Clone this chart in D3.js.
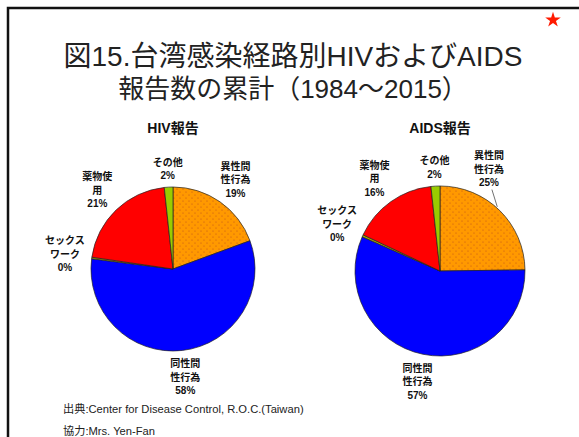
<!DOCTYPE html>
<html>
<head>
  <meta charset="utf-8">
  <title>図15</title>
  <style>
    body { margin: 0; background: #fff; }
    svg { display: block; }
  </style>
</head>
<body>

<svg width="579" height="437" viewBox="0 0 579 437"></svg>

<script src="https://cdn.jsdelivr.net/npm/d3@7"></script>
<script>
// --- data (percent of cumulative reports, 1984-2015) ---
const routes = ['異性間性行為', '同性間性行為', 'セックスワーク', '薬物使用', 'その他'];
const routeLines = [
  ['異性間', '性行為'],
  ['同性間', '性行為'],
  ['セックス', 'ワーク'],
  ['薬物使', '用'],
  ['その他']
];
const hivValues = [19.4, 57.6, 0.3, 21.0, 1.7];
const aidsValues = [24.8, 56.8, 0.4, 16.3, 1.7];
const chartTitles = ['HIV報告', 'AIDS報告'];
const titleLines = ['図15.台湾感染経路別HIVおよびAIDS', '報告数の累計（1984～2015）'];
const notes = ['出典:Center for Disease Control, R.O.C.(Taiwan)', '協力:Mrs. Yen-Fan'];

const svg = d3.select('svg');
const font = '"Liberation Sans", "Noto Sans CJK JP", sans-serif';
const colors = ['url(#dots)', '#0000ff', '#aaaa00', '#ff0000', '#99cc00'];

// dotted orange fill
const defs = svg.append('defs');
const pat = defs.append('pattern')
  .attr('id', 'dots')
  .attr('patternUnits', 'userSpaceOnUse')
  .attr('width', 6).attr('height', 6);
pat.append('rect').attr('width', 6).attr('height', 6).attr('fill', '#ff9900');
pat.selectAll('circle').data([[1, 1], [4, 4]]).join('circle')
  .attr('cx', d => d[0]).attr('cy', d => d[1]).attr('r', 0.6)
  .attr('fill', '#c0501a');

svg.append('rect').attr('width', 579).attr('height', 437).attr('fill', '#fff');

// frame (left + top only)
svg.append('path')
  .attr('d', 'M8,437V8H579')
  .attr('fill', 'none')
  .attr('stroke', '#111')
  .attr('stroke-width', 2.5);

// red star
svg.append('path')
  .attr('transform', 'translate(553,20)')
  .attr('d', d3.symbol(d3.symbolStar, 75)())
  .attr('fill', '#ff1a00');

// title
svg.selectAll('.title').data(titleLines).join('text')
  .attr('class', 'title')
  .attr('x', 293)
  .attr('y', (d, i) => 66 + i * 32)
  .attr('text-anchor', 'middle')
  .attr('font-family', font)
  .attr('font-size', (d, i) => i ? '26px' : '28px')
  .attr('fill', '#222')
  .text(d => d);

const pie = d3.pie().sort(null).value(d => d);

const charts = [
  { title: chartTitles[0], values: hivValues, cx: 173, cy: 269, r: 82, nudge: {} },
  { title: chartTitles[1], values: aidsValues, cx: 440, cy: 271, r: 85, nudge: { 0: -19 } }
];

charts.forEach(c => {
  const g = svg.append('g').attr('transform', `translate(${c.cx},${c.cy})`);
  const arc = d3.arc().innerRadius(0).outerRadius(c.r);
  const slices = pie(c.values);

  g.selectAll('path.slice').data(slices).join('path')
    .attr('class', 'slice')
    .attr('d', arc)
    .attr('fill', (d, i) => colors[i])
    .attr('stroke', '#222')
    .attr('stroke-width', 0.7);

  svg.append('text')
    .attr('x', c.cx)
    .attr('y', 133)
    .attr('text-anchor', 'middle')
    .attr('font-family', font)
    .attr('font-weight', 'bold')
    .attr('font-size', '14px')
    .attr('fill', '#111')
    .text(c.title);

  // labels around the pie
  slices.forEach((s, i) => {
    const mid = (s.startAngle + s.endAngle) / 2 + (c.nudge[i] || 0) * Math.PI / 180;
    const lr = c.r * (i === 4 ? 1.22 : 1.33);
    const lx = Math.sin(mid) * lr;
    const ly = -Math.cos(mid) * lr;
    const lines = routeLines[i].concat([Math.round(s.data) + '%']);
    const lh = 13.5;
    const y0 = ly - (lines.length - 1) * lh / 2;
    const t = g.append('text')
      .attr('text-anchor', 'middle')
      .attr('font-family', font)
      .attr('font-weight', 'bold')
      .attr('font-size', '10px')
      .attr('fill', '#111');
    lines.forEach((l, j) => {
      t.append('tspan')
        .attr('x', lx)
        .attr('y', y0 + j * lh)
        .attr('dy', '0.35em')
        .text(l);
    });
    if (c.nudge[i]) {
      const a0 = (s.startAngle + s.endAngle) / 2 - 0.05;
      g.append('line')
        .attr('x1', lx + 3).attr('y1', y0 + (lines.length - 1) * lh + 7)
        .attr('x2', Math.sin(a0) * (c.r + 1)).attr('y2', -Math.cos(a0) * (c.r + 1))
        .attr('stroke', '#333')
        .attr('stroke-width', 0.7);
    }
  });
});

// source notes
svg.selectAll('.note').data(notes).join('text')
  .attr('class', 'note')
  .attr('x', 63)
  .attr('y', (d, i) => 413 + i * 22)
  .attr('font-family', font)
  .attr('font-size', '11.2px')
  .attr('fill', '#222')
  .text(d => d);
</script>

</body>
</html>
